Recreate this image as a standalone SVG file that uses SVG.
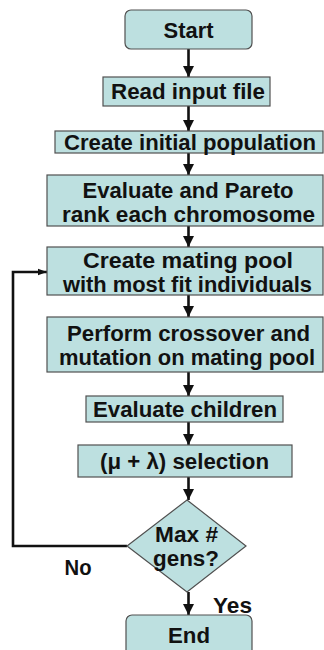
<svg xmlns="http://www.w3.org/2000/svg" width="324" height="650" viewBox="0 0 324 650">
  <defs>
    <style>
      .box { fill: #bde0e0; stroke: #505050; stroke-width: 1.2; }
      .lbl { font-family: "Liberation Sans", Arial, sans-serif; font-weight: bold; font-size: 22px; fill: #111; text-anchor: middle; }
      .edge { fill: none; stroke: #111; stroke-width: 2.6; }
    </style>
    <marker id="head" markerUnits="userSpaceOnUse" markerWidth="12" markerHeight="12" viewBox="0 0 12 12" refX="11" refY="6" orient="auto">
      <path d="M0,0.5 L11,6 L0,11.5 Z" fill="#111"/>
    </marker>
    <marker id="headSmall" markerUnits="userSpaceOnUse" markerWidth="10" markerHeight="8" viewBox="0 0 10 8" refX="9.5" refY="4" orient="auto">
      <path d="M0,0.5 L9.5,4 L0,7.5 Z" fill="#111"/>
    </marker>
  </defs>

  <rect width="324" height="650" fill="#ffffff"/>

  <!-- connectors -->
  <g id="edges">
    <line class="edge" x1="188.5" y1="49" x2="188.5" y2="77" marker-end="url(#head)"/>
    <line class="edge" x1="188.5" y1="106" x2="188.5" y2="131" marker-end="url(#head)"/>
    <line class="edge" x1="188.5" y1="153" x2="188.5" y2="175" marker-end="url(#head)"/>
    <line class="edge" x1="188.5" y1="226" x2="188.5" y2="247" marker-end="url(#head)"/>
    <line class="edge" x1="188.5" y1="295" x2="188.5" y2="317" marker-end="url(#head)"/>
    <line class="edge" x1="188.5" y1="372" x2="188.5" y2="396" marker-end="url(#head)"/>
    <line class="edge" x1="188.5" y1="422" x2="188.5" y2="445" marker-end="url(#head)"/>
    <line class="edge" x1="188.5" y1="477" x2="188.5" y2="500" marker-end="url(#head)"/>
    <line class="edge" x1="188.5" y1="592" x2="188.5" y2="615" marker-end="url(#head)"/>
    <polyline class="edge" points="127,546 13,546 13,272 47,272" marker-end="url(#headSmall)"/>
  </g>

  <g id="start">
    <rect class="box" x="125" y="10" width="127" height="39" rx="6"/>
    <text class="lbl" x="188.5" y="38" textLength="50" lengthAdjust="spacingAndGlyphs">Start</text>
  </g>

  <g id="read-input">
    <rect class="box" x="103" y="77" width="167" height="29"/>
    <text class="lbl" x="188" y="99" textLength="154" lengthAdjust="spacingAndGlyphs">Read input file</text>
  </g>

  <g id="init-population">
    <rect class="box" x="55" y="131" width="268" height="22"/>
    <text class="lbl" x="190" y="149.5" textLength="252" lengthAdjust="spacingAndGlyphs">Create initial population</text>
  </g>

  <g id="evaluate-rank">
    <rect class="box" x="47" y="175" width="276" height="51"/>
    <text class="lbl" x="188" y="197.5" textLength="211" lengthAdjust="spacingAndGlyphs">Evaluate and Pareto</text>
    <text class="lbl" x="188.5" y="221.5" textLength="253" lengthAdjust="spacingAndGlyphs">rank each chromosome</text>
  </g>

  <g id="mating-pool">
    <rect class="box" x="47" y="247" width="276" height="48"/>
    <text class="lbl" x="188" y="267.5" textLength="210" lengthAdjust="spacingAndGlyphs">Create mating pool</text>
    <text class="lbl" x="187.5" y="291.5" textLength="249" lengthAdjust="spacingAndGlyphs">with most fit individuals</text>
  </g>

  <g id="crossover-mutation">
    <rect class="box" x="47" y="317" width="276" height="55"/>
    <text class="lbl" x="188.5" y="341" textLength="243" lengthAdjust="spacingAndGlyphs">Perform crossover and</text>
    <text class="lbl" x="187" y="365" textLength="256" lengthAdjust="spacingAndGlyphs">mutation on mating pool</text>
  </g>

  <g id="evaluate-children">
    <rect class="box" x="86" y="396" width="197" height="26"/>
    <text class="lbl" x="185" y="417" textLength="184" lengthAdjust="spacingAndGlyphs">Evaluate children</text>
  </g>

  <g id="selection">
    <rect class="box" x="78" y="445" width="214" height="32"/>
    <text class="lbl" x="184.5" y="469" textLength="169" lengthAdjust="spacingAndGlyphs">(μ + λ) selection</text>
  </g>

  <g id="max-gens">
    <polygon class="box" points="187,500 246,546 187,592 127,546"/>
    <text class="lbl" x="186.5" y="542" textLength="63" lengthAdjust="spacingAndGlyphs">Max #</text>
    <text class="lbl" x="186" y="566" textLength="66" lengthAdjust="spacingAndGlyphs">gens?</text>
  </g>

  <g id="end">
    <rect class="box" x="126" y="615" width="126" height="42" rx="6"/>
    <text class="lbl" x="189" y="643" textLength="42" lengthAdjust="spacingAndGlyphs">End</text>
  </g>

  <g id="edge-labels">
    <text class="lbl" x="78" y="575" textLength="27" lengthAdjust="spacingAndGlyphs">No</text>
    <text class="lbl" x="232.5" y="613" textLength="39" lengthAdjust="spacingAndGlyphs">Yes</text>
  </g>
</svg>
